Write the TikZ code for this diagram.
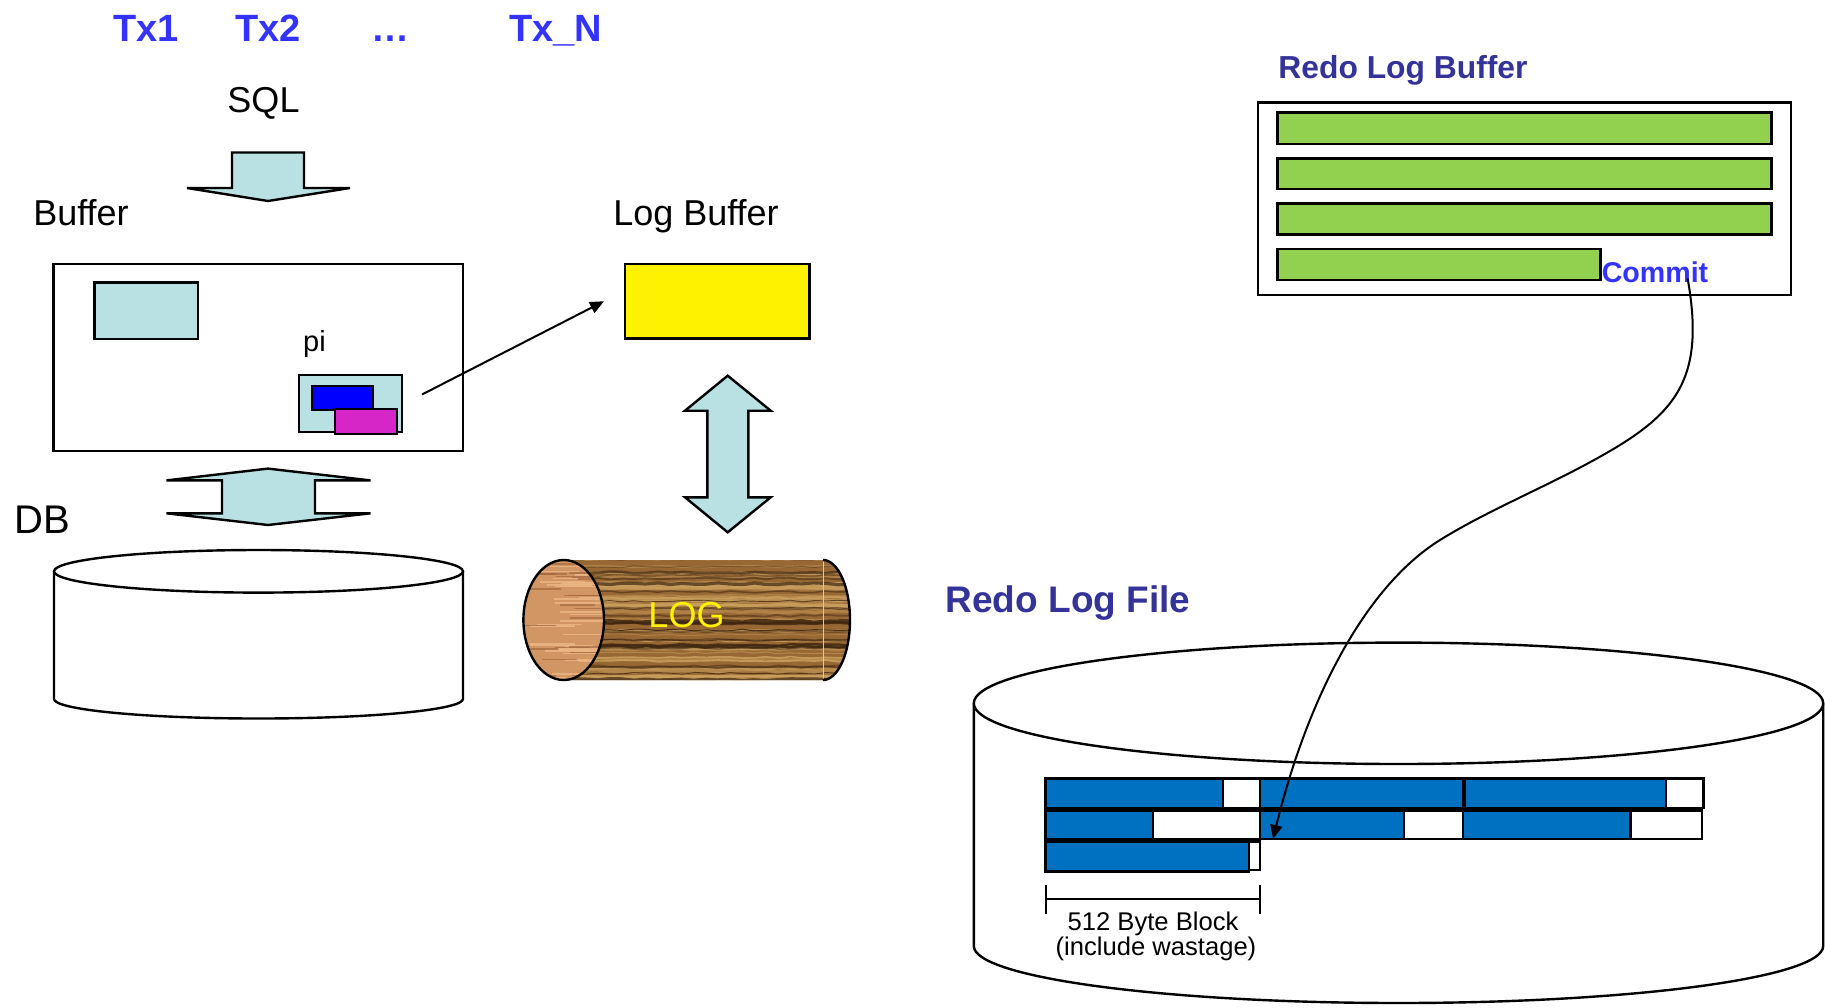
\documentclass[tikz,border=0pt]{standalone}
\usepackage{fontspec}
\setmainfont{Liberation Sans}
\usetikzlibrary{arrows.meta,decorations.pathmorphing}

\definecolor{pale}{RGB}{185,224,227}
\definecolor{txblue}{RGB}{51,51,255}
\definecolor{navy}{RGB}{51,51,153}
\definecolor{leaf}{RGB}{146,208,80}
\definecolor{block}{RGB}{0,112,192}
\definecolor{ink}{RGB}{0,0,255}
\definecolor{mag}{RGB}{214,38,200}
\definecolor{woodbase}{RGB}{152,104,52}
\definecolor{wooddark}{RGB}{62,38,16}
\definecolor{woodlight}{RGB}{204,162,96}
\definecolor{facebase}{RGB}{210,150,100}
\definecolor{facelight}{RGB}{236,184,134}
\definecolor{facedark}{RGB}{164,104,62}

% rectangle node given by its corners (x1,y1) top left, (x2,y2) bottom right
\newcommand\boxat[6]{\node[#6, inner sep=0pt, outer sep=0pt, anchor=north west,
  minimum width={(#4-#2)*0.5pt}, minimum height={(#5-#3)*0.5pt}] (#1) at (#2,#3) {};}

\begin{document}
\begin{tikzpicture}[x=0.5pt, y=-0.5pt,
  outline/.style={draw=black, line width=1.2pt},
  blockarrow/.style={draw=black, line width=1.2pt, fill=pale, line join=miter},
  bar/.style={draw=black, line width=1.4pt, fill=leaf},
  used/.style={draw=black, line width=1.3pt, fill=block},
  spare/.style={draw=black, line width=1.3pt, fill=white},
  lbl/.style={inner sep=0pt, anchor=base},
  pointer/.style={line width=1pt, -{Triangle[length=7pt,width=6pt]}},
  grain/.style={decorate, decoration={random steps, segment length=6pt, amplitude=0.5pt}}]

\useasboundingbox (0,0) rectangle (1825,1007);
\fill[white] (0,0) rectangle (1825,1007);

% ---------- transactions and SQL ----------
\node[lbl, font=\fontsize{19pt}{22pt}\selectfont\bfseries, text=txblue] (tx1) at (146,41) {Tx1};
\node[lbl, font=\fontsize{19pt}{22pt}\selectfont\bfseries, text=txblue] (tx2) at (268,41) {Tx2};
\node[lbl, font=\fontsize{19pt}{22pt}\selectfont\bfseries, text=txblue] (txdots) at (390,41) {…};
\node[lbl, font=\fontsize{19pt}{22pt}\selectfont\bfseries, text=txblue] (txn) at (555.5,41) {Tx\_N};
\node[lbl, font=\fontsize{18pt}{21pt}\selectfont] (sql) at (263.5,112) {SQL};

\draw[blockarrow] (232,152.5) -- (304,152.5) -- (304,188) -- (350,188) -- (268,201)
  -- (187,188) -- (232,188) -- cycle;

% ---------- buffer cache ----------
\node[lbl, font=\fontsize{18pt}{21pt}\selectfont] (buflbl) at (81,225) {Buffer};
\boxat{buffer}{53.6}{264}{463}{451}{outline, fill=white}
\boxat{page}{94.6}{282.5}{198}{339}{outline, fill=pale}
\node[lbl, font=\fontsize{14.5pt}{17pt}\selectfont] (pilbl) at (314.5,351) {pi};
\boxat{pibox}{299}{375}{402}{432}{outline, fill=pale}
\boxat{piblue}{312}{386}{373}{410}{outline, fill=ink}
\boxat{pimag}{335}{409}{397}{434}{outline, fill=mag}

% ---------- log buffer ----------
\node[lbl, font=\fontsize{18pt}{21pt}\selectfont] (logbuflbl) at (696,225) {Log Buffer};
\boxat{logbuf}{625}{264}{809.3}{338.5}{outline, fill=yellow}
\draw[pointer] ([xshift=10pt,yshift=4.5pt]pibox.east) -- ([xshift=-10.5pt]logbuf.west);

% ---------- buffer <-> DB ----------
\draw[blockarrow] (268,468.6) -- (370.5,480.4) -- (315,480.4) -- (315,513.3) -- (370.5,513.3)
  -- (268,525) -- (166.5,513.3) -- (222,513.3) -- (222,480.4) -- (166.5,480.4) -- cycle;
\node[lbl, font=\fontsize{20pt}{23pt}\selectfont] (dblbl) at (42.5,533) {DB};

\draw[outline, fill=white] (54,571.3) -- (54,699)
  arc[start angle=180, end angle=0, x radius=204.5, y radius=19.5] -- (463,571.3);
\draw[outline, fill=white] (258.5,571.3) ellipse [x radius=204.5, y radius=21.3];

% ---------- log buffer <-> log file ----------
\draw[blockarrow] (727.7,375.7) -- (770.7,410.7) -- (748.3,410.7) -- (748.3,497.3) -- (770.7,497.3)
  -- (727.7,532.3) -- (685,497.3) -- (707.3,497.3) -- (707.3,410.7) -- (685,410.7) -- cycle;

% ---------- the wooden log ----------
\pgfmathsetseed{42}
\begin{scope}
  \clip (563.7,560) -- (823,560) arc[start angle=-90, end angle=90, x radius=27, y radius=60]
    -- (563.7,680) -- cycle;
  \fill[woodbase] (540,550) rectangle (860,690);
  \foreach \k in {1,...,45}{
    \pgfmathsetmacro{\yy}{556+128*rnd}
    \pgfmathsetmacro{\lw}{0.4+1.4*rnd}
    \pgfmathsetmacro{\op}{0.35+0.5*rnd}
    \draw[grain, woodlight, line width=\lw pt, opacity=\op] (550,\yy) -- (860,\yy);
  }
  \foreach \k in {1,...,26}{
    \pgfmathsetmacro{\yy}{556+128*rnd}
    \pgfmathsetmacro{\lw}{0.3+1.3*rnd}
    \pgfmathsetmacro{\op}{0.35+0.55*rnd}
    \draw[grain, wooddark, line width=\lw pt, opacity=\op] (550,\yy) -- (860,\yy);
  }
  \draw[woodlight!60!white, line width=0.5pt] (823,558) -- (823,682);
\end{scope}
\draw[outline] (823,560) arc[start angle=-90, end angle=90, x radius=27, y radius=60];
\begin{scope}
  \clip (563.7,620) ellipse [x radius=40.3, y radius=60];
  \fill[facebase] (520,555) rectangle (610,685);
  \foreach \k in {1,...,30}{
    \pgfmathsetmacro{\yy}{558+124*rnd}
    \pgfmathsetmacro{\xa}{520+60*rnd}
    \pgfmathsetmacro{\lw}{0.4+0.9*rnd}
    \draw[facelight, line width=\lw pt, opacity=0.8] (\xa,\yy) -- (\xa+45,\yy);
  }
  \foreach \k in {1,...,22}{
    \pgfmathsetmacro{\yy}{558+124*rnd}
    \pgfmathsetmacro{\xa}{520+60*rnd}
    \pgfmathsetmacro{\lw}{0.3+0.7*rnd}
    \draw[facedark, line width=\lw pt, opacity=0.7] (\xa,\yy) -- (\xa+35,\yy);
  }
\end{scope}
\draw[outline] (563.7,620) ellipse [x radius=40.3, y radius=60];
\node[lbl, font=\fontsize{18pt}{21pt}\selectfont, text=yellow] (loglbl) at (686.5,627) {LOG};

% ---------- redo log buffer ----------
\node[lbl, font=\fontsize{15.9pt}{19pt}\selectfont\bfseries, text=navy] (rlbtitle) at (1403,78.5) {Redo Log Buffer};
\boxat{rlb}{1258}{102.3}{1791}{295}{outline, fill=white}
\boxat{g1}{1277.3}{112.3}{1771.7}{144}{bar}
\boxat{g2}{1277.3}{158.3}{1771.7}{189}{bar}
\boxat{g3}{1277.3}{203.7}{1771.7}{234.3}{bar}
\boxat{g4}{1277.3}{249}{1600.4}{280}{bar}
\node[lbl, font=\fontsize{14.3pt}{17pt}\selectfont\bfseries, text=txblue] (commit) at (1655,282.5) {Commit};

% ---------- redo log file ----------
\node[lbl, font=\fontsize{18.5pt}{22pt}\selectfont\bfseries, text=navy] (rlftitle) at (1068,612.7) {Redo Log File};
\draw[outline, fill=white] (973.8,703.3) -- (973.8,946)
  arc[start angle=180, end angle=0, x radius=424.7, y radius=57] -- (1823.2,703.3);
\draw[outline, fill=white] (1398.5,703.3) ellipse [x radius=424.7, y radius=60.7];

% row 1
\boxat{r1a}{1045.6}{778.3}{1222.9}{808}{used}
\boxat{r1b}{1222.9}{778.3}{1260}{808}{spare}
\boxat{r1c}{1260}{778.3}{1463}{808}{used}
\boxat{r1d}{1465}{778.3}{1666}{808}{used}
\boxat{r1e}{1666}{778.3}{1703.3}{808}{spare}
% row 2
\boxat{r2a}{1045.6}{810.5}{1152.8}{839}{used}
\boxat{r2b}{1152.8}{810.5}{1260}{839}{spare}
\boxat{r2c}{1260}{810.5}{1404}{839}{used}
\boxat{r2d}{1404}{810.5}{1463}{839}{spare}
\boxat{r2e}{1463}{810.5}{1630.4}{839}{used}
\boxat{r2f}{1630.4}{810.5}{1702}{839}{spare}
% row 3
\boxat{r3b}{1248.8}{841.7}{1260}{870}{spare}
\boxat{r3a}{1045.6}{841.7}{1248.8}{871.7}{used}

% block size bracket
\coordinate (brl) at (1045.6,899.3);
\coordinate (brr) at (1260,899.3);
\draw[line width=1pt] (1045.6,885) -- (1045.6,914);
\draw[line width=1pt] (1260,885) -- (1260,914);
\draw[line width=1pt] (brl) -- (brr);
\node[lbl, font=\fontsize{12.8pt}{15pt}\selectfont] (blk1) at (1153,930) {512 Byte Block};
\node[lbl, font=\fontsize{12.8pt}{15pt}\selectfont] (blk2) at (1156,955.5) {(include wastage)};

% commit written to the log file
\coordinate (cstart) at ([xshift=-10.5pt,yshift=2pt]commit.base east);
\coordinate (cend) at ([xshift=6.5pt]r2c.south west);
\draw[pointer] (cstart) .. controls (1707,387) and (1671,419) .. (1583,466)
  .. controls (1539,489.5) and (1482.5,513.5) .. (1440,540)
  .. controls (1363.5,587.7) and (1306.6,702) .. (cend);

\end{tikzpicture}
\end{document}
